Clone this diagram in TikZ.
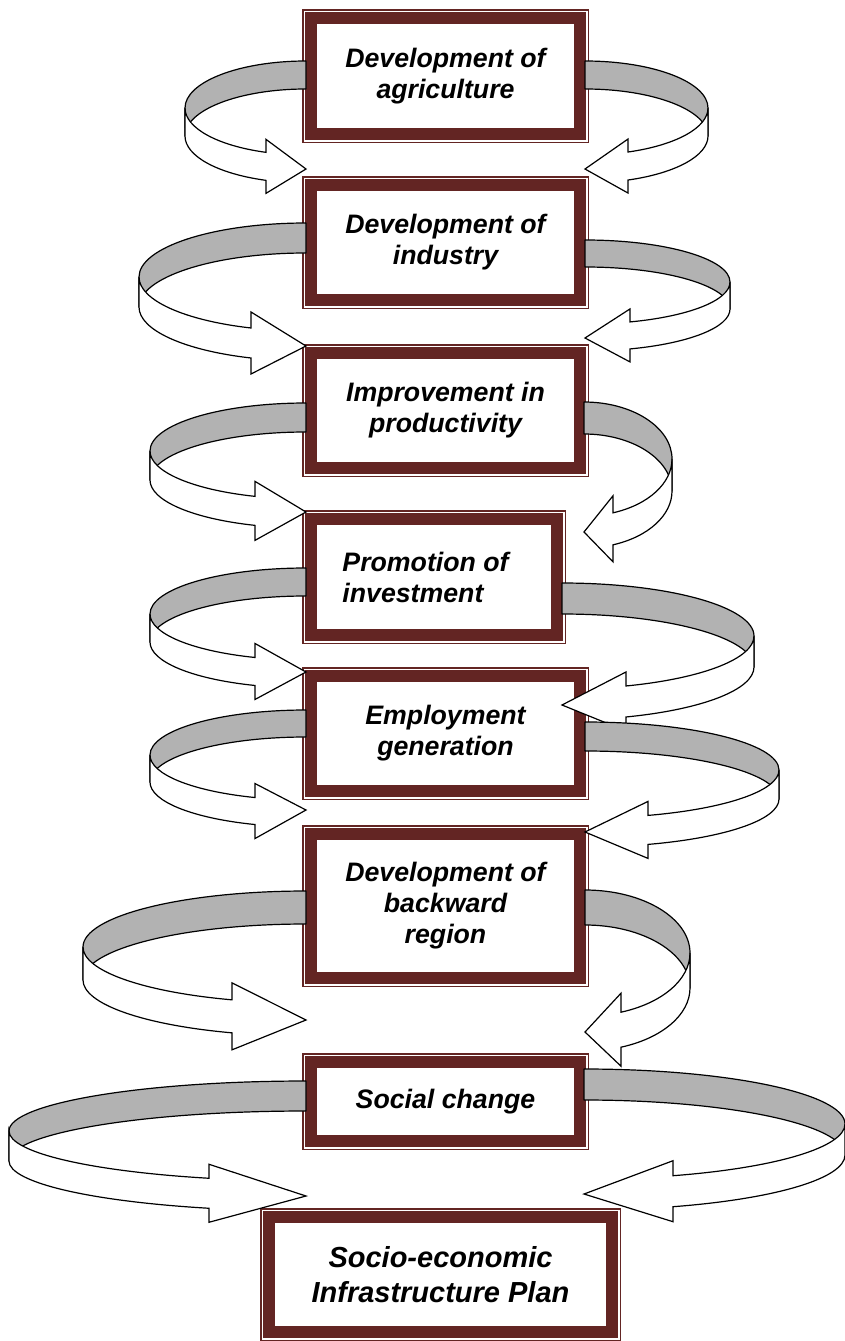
\documentclass[tikz,border=0pt]{standalone}
\usepackage{fontspec}
\setmainfont{Liberation Sans}
\usepackage{tikz}
\usetikzlibrary{positioning,calc}
\definecolor{boxred}{HTML}{632523}
\definecolor{ribbongrey}{HTML}{B2B2B2}

% side, cx, top y, x radius, y radius, band height, head length, head overhang, tip y
\newcommand{\twistarrow}[9]{%
  \begin{scope}[shift={(#2,0)}, xscale=#1]
    \pgfmathsetmacro{\rbcy}{-(#3+#5)}
    \pgfmathsetmacro{\rbang}{180+acos(#7/#4)}
    \pgfmathsetmacro{\rbya}{\rbcy-#5*sqrt(1-(#7/#4)^2)}
    \draw[ribbonback] (0,-#3) arc[start angle=90, end angle=180, x radius=#4, y radius=#5]
      -- ++(0,-#6) arc[start angle=180, end angle=90, x radius=#4, y radius=#5] -- cycle;
    \draw[ribbonfront] (-#4,\rbcy) arc[start angle=180, end angle=\rbang, x radius=#4, y radius=#5]
      -- (-#7,\rbya+#8) -- (0,-#9) -- (-#7,\rbya-#6-#8) -- (-#7,\rbya-#6)
      arc[start angle=\rbang, end angle=180, x radius=#4, y radius=#5] -- cycle;
  \end{scope}}

\begin{document}
\begin{tikzpicture}[x=1pt, y=1pt,
    planbox/.style={draw=boxred, line width=12pt, fill=white,
      preaction={draw=boxred, line width=18pt},
      preaction={draw=white, line width=15pt},
      inner sep=0pt, align=center,
      font=\fontsize{26.7}{31}\selectfont\bfseries\itshape},
    ribbonback/.style={draw=black, line width=1.2pt, fill=ribbongrey, line join=round},
    ribbonfront/.style={draw=black, line width=1.2pt, fill=white, line join=miter}]
  \useasboundingbox (0,0) rectangle (844,-1341);

  \node[planbox, minimum width=269pt, minimum height=116pt] (agri) at (445.5,-76) {Development of\\agriculture};
  \node[planbox, minimum width=269pt, minimum height=115pt] (indus) at (445.5,-242.5) {Development of\\industry};
  \node[planbox, minimum width=269pt, minimum height=115pt] (prod) at (445.5,-410.5) {Improvement in\\productivity};
  \node[planbox, minimum width=246pt, minimum height=116pt, align=left] (invest) at (434,-577) {Promotion of\hspace*{17pt}\\investment};
  \node[planbox, minimum width=269pt, minimum height=115pt] (employ) at (445.5,-733.5) {Employment\\generation};
  \node[planbox, minimum width=269pt, minimum height=144pt] (region) at (445.5,-906) {Development of\\backward\\region};
  \node[planbox, minimum width=269pt, minimum height=79pt] (social) at (445.5,-1101.5) {Social change};
  \node[planbox, minimum width=343pt, minimum height=115pt,
        font=\fontsize{29}{35}\selectfont\bfseries\itshape] (plan) at (440.5,-1274.5) {Socio-economic\\Infrastructure Plan};

  \twistarrow{1}{306}{61}{121}{47}{28}{40}{13}{169}
  \twistarrow{-1}{585}{61}{123}{47}{28}{43}{13}{169}
  \twistarrow{1}{306}{223}{167}{54}{30}{55}{16}{346}
  \twistarrow{-1}{585}{240}{145}{42}{27}{45}{13}{338}
  \twistarrow{1}{306}{403}{156}{48}{29}{51}{15}{512}
  \twistarrow{-1}{584}{402}{88}{57}{32}{29}{17}{532}
  \twistarrow{1}{306}{568}{156}{46}{28}{51}{14}{672}
  \twistarrow{-1}{562}{583}{192}{53}{31}{64}{14}{705}
  \twistarrow{1}{306}{710}{156}{45}{27}{51}{14}{810}
  \twistarrow{-1}{585}{722}{194}{48}{29}{63}{14}{832}
  \twistarrow{1}{306}{891}{223}{56}{33}{74}{17}{1020}
  \twistarrow{-1}{585}{890}{105}{63}{35}{36}{19}{1032}
  \twistarrow{1}{306}{1081}{297}{50}{30}{97}{14}{1196}
  \twistarrow{-1}{584}{1069}{261}{55}{31}{89}{15}{1194}
\end{tikzpicture}
\end{document}
